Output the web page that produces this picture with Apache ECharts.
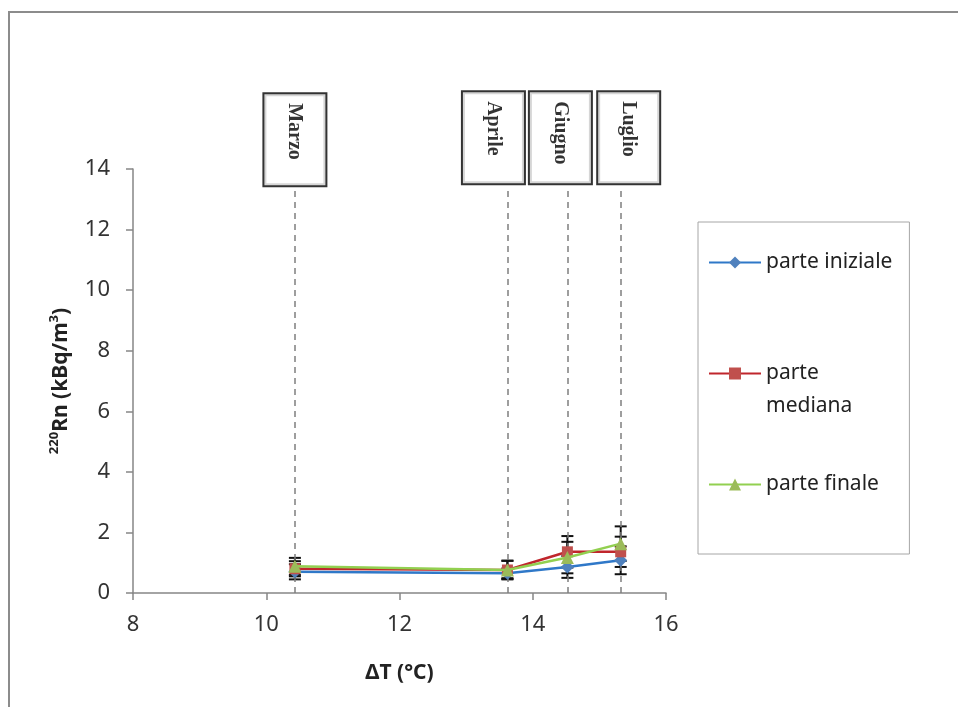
<!DOCTYPE html>
<html>
<head>
<meta charset="utf-8">
<script src="https://cdn.jsdelivr.net/npm/echarts@6/dist/echarts.min.js"></script>
<style>
  html, body { margin: 0; padding: 0; background: #fff; overflow: hidden; }
  #frame { position: absolute; left: 8px; top: 11px; width: 2000px; height: 2000px;
           border: 2px solid #8c8c8c; box-sizing: border-box; }
  #chart { position: absolute; left: 0; top: 0; width: 958px; height: 707px; }
</style>
</head>
<body>
<div id="frame"></div>
<div id="chart"></div>
<script>
// ΔT (°C) for each month
const deltaT = [10.43, 13.62, 14.52, 15.32];
const months = ['Marzo', 'Aprile', 'Giugno', 'Luglio'];

// 220Rn concentration (kBq/m3) and its uncertainty, per section
const iniziale = [0.70, 0.65, 0.86, 1.08];
const inizialeErr = [0.25, 0.16, 0.36, 0.46];
const mediana = [0.80, 0.76, 1.36, 1.36];
const medianaErr = [0.25, 0.30, 0.52, 0.50];
const finale = [0.88, 0.76, 1.17, 1.63];
const finaleErr = [0.28, 0.31, 0.52, 0.57];

const seriesNames = ['parte iniziale', 'parte mediana', 'parte finale'];

// axis ticks
const xTicks = { min: 8, max: 16, step: 2 };
const yTicks = { min: 0, max: 14, step: 2 };

// height where the month guide lines end and the month boxes start
const monthLineTop = 13.45;

const chart = echarts.init(document.getElementById('chart'), null, { renderer: 'canvas' });

const looks = [
  { line: '#2f78c8', mark: '#4f81bd', symbol: 'diamond', size: 13 },
  { line: '#c0262c', mark: '#c0504d', symbol: 'rect', size: 11 },
  { line: '#92d050', mark: '#9bbb59', symbol: 'triangle', size: 13 }
];
const values = [iniziale, mediana, finale];
const errors = [inizialeErr, medianaErr, finaleErr];
// nudge of each month box: [along the text, sideways]
const boxShift = [[0, 0], [-2, 14], [-2, 7], [-2, -8]];

const lineSeries = seriesNames.map((name, s) => ({
  name: name,
  type: 'line',
  data: deltaT.map((x, i) => [x, values[s][i]]),
  symbol: looks[s].symbol,
  symbolSize: looks[s].size,
  lineStyle: { color: looks[s].line, width: 2.5 },
  itemStyle: { color: looks[s].mark },
  z: 5 + s,
  animation: false
}));

const errorSeries = seriesNames.map((name, s) => ({
  type: 'custom',
  name: name + ' err',
  data: deltaT.map((x, i) => [x, values[s][i] - errors[s][i], values[s][i] + errors[s][i]]),
  renderItem: function (params, api) {
    const lo = api.coord([api.value(0), api.value(1)]);
    const hi = api.coord([api.value(0), api.value(2)]);
    const w = 6;
    const st = { stroke: '#111', lineWidth: 2 };
    return {
      type: 'group',
      children: [
        { type: 'line', shape: { x1: hi[0], y1: hi[1], x2: lo[0], y2: lo[1] }, style: st },
        { type: 'line', shape: { x1: hi[0] - w, y1: hi[1], x2: hi[0] + w, y2: hi[1] }, style: st },
        { type: 'line', shape: { x1: lo[0] - w, y1: lo[1], x2: lo[0] + w, y2: lo[1] }, style: st }
      ]
    };
  },
  z: 4,
  silent: true,
  animation: false
}));

const serifFont = '"Liberation Serif", "DejaVu Serif", serif';

const monthSeries = {
  type: 'scatter',
  name: 'mesi',
  symbolSize: 1,
  itemStyle: { color: 'rgba(0,0,0,0)' },
  data: deltaT.map((x, i) => ({
    value: [x, monthLineTop],
    name: months[i],
    label: { offset: boxShift[i] }
  })),
  label: {
    show: true,
    position: 'top',
    distance: 0,
    align: 'right',
    verticalAlign: 'middle',
    rotate: -90,
    formatter: p => '{m|' + p.name + '}',
    rich: {
      m: {
        width: 64, align: 'left',
        fontFamily: serifFont, fontWeight: 'bold', fontSize: 20, lineHeight: 22, color: '#000'
      }
    },
    backgroundColor: '#fff',
    borderColor: '#000',
    borderWidth: 2,
    padding: [20, 18, 19, 9]
  },
  markLine: {
    silent: true,
    symbol: 'none',
    label: { show: false },
    lineStyle: { color: '#7f7f7f', type: [6, 5], width: 1.5 },
    data: deltaT.map(x => [{ coord: [x, 0] }, { coord: [x, monthLineTop - 0.15] }])
  },
  z: 10,
  silent: true,
  animation: false
};

const sansFont = '"Noto Sans", "Open Sans", sans-serif';

chart.setOption({
  backgroundColor: 'transparent',
  animation: false,
  grid: { left: 133, top: 169, width: 533, height: 424, containLabel: false },
  xAxis: {
    type: 'value',
    min: xTicks.min, max: xTicks.max, interval: xTicks.step,
    name: 'ΔT (°C)',
    nameLocation: 'middle',
    nameGap: 70,
    nameTextStyle: { fontFamily: sansFont, fontWeight: 'bold', fontSize: 21, color: '#222' },
    axisLine: { onZero: false, lineStyle: { color: '#868686', width: 1.5 } },
    axisTick: { length: 7, lineStyle: { color: '#868686', width: 1.5 } },
    axisLabel: { fontFamily: sansFont, fontSize: 22, color: '#333', margin: 21 },
    splitLine: { show: false }
  },
  yAxis: {
    type: 'value',
    min: yTicks.min, max: yTicks.max, interval: yTicks.step,
    name: '{sup|220}Rn (kBq/m{sup|3})',
    nameLocation: 'middle',
    nameGap: 59,
    nameTextStyle: {
      fontFamily: sansFont, fontWeight: 'bold', fontSize: 21, color: '#222', lineHeight: 26,
      rich: {
        sup: { fontFamily: sansFont, fontWeight: 'bold', fontSize: 13, color: '#222',
               verticalAlign: 'top', lineHeight: 26, padding: [0, 0, 9, 0] }
      }
    },
    axisLine: { show: true, lineStyle: { color: '#868686', width: 1.5 } },
    axisTick: { show: true, length: 7, lineStyle: { color: '#868686', width: 1.5 } },
    axisLabel: { fontFamily: sansFont, fontSize: 22, color: '#333', margin: 23 },
    splitLine: { show: false }
  },
  legend: {
    orient: 'vertical',
    left: 698,
    top: 222,
    padding: [24, 17, 53, 10],
    borderColor: '#a6a6a6',
    borderWidth: 1,
    itemWidth: 52,
    itemHeight: 15,
    itemGap: 45,
    data: seriesNames,
    formatter: name => (name === 'parte mediana' ? '{gap| }\n{t|parte}\n{t|mediana}' : name),
    textStyle: {
      fontFamily: sansFont, fontSize: 21, lineHeight: 33, color: '#222',
      rich: {
        gap: { fontSize: 21, lineHeight: 33 },
        t: { fontFamily: sansFont, fontSize: 21, lineHeight: 33, color: '#222' }
      }
    }
  },
  series: [...errorSeries, ...lineSeries, monthSeries]
});
</script>
</body>
</html>
